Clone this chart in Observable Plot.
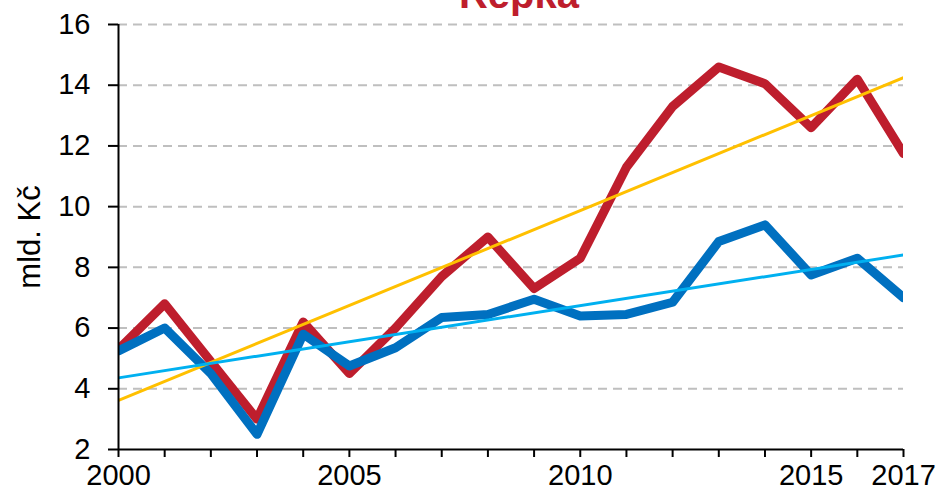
<!DOCTYPE html>
<html>
<head>
<meta charset="utf-8">
<script src="https://cdn.jsdelivr.net/npm/d3@7"></script>
<script src="https://cdn.jsdelivr.net/npm/@observablehq/plot@0.6"></script>
<style>
  html, body { margin: 0; padding: 0; background: #fff; overflow: hidden; }
  #wrap { position: relative; width: 937px; height: 489px; }
  #title { position: absolute; top: -26px; left: 419px; width: 200px; text-align: center;
    font: bold 40px "Liberation Sans", Arial, sans-serif; line-height: 40px; color: #BE1E2D; z-index: 2; }
</style>
</head>
<body>
<div id="wrap"><div id="title">Řepka</div><div id="chart"></div></div>
<script>
const title = "Řepka";
const yLabel = "mld. Kč";
const years = [2000,2001,2002,2003,2004,2005,2006,2007,2008,2009,2010,2011,2012,2013,2014,2015,2016,2017];
const redValues = [5.3,6.8,4.9,3.0,6.2,4.5,6.0,7.7,9.0,7.3,8.3,11.3,13.3,14.6,14.05,12.6,14.2,11.75];
const blueValues = [5.25,6.0,4.5,2.5,5.8,4.75,5.35,6.35,6.45,6.95,6.4,6.45,6.85,8.85,9.4,7.75,8.3,7.0];
const xTickLabels = [2000,2005,2010,2015,2017];
const yTicks = [2,4,6,8,10,12,14,16];

const red = years.map((x, i) => ({x, y: redValues[i]}));
const blue = years.map((x, i) => ({x, y: blueValues[i]}));

const chart = Plot.plot({
  width: 937, height: 489,
  marginLeft: 118, marginRight: 34, marginTop: 24, marginBottom: 40,
  style: {fontFamily: '"Liberation Sans", Arial, sans-serif', background: "#fff", color: "#000"},
  x: {domain: [2000, 2017], label: null},
  y: {domain: [2, 16], label: null},
  marks: [
    Plot.ruleY(yTicks.filter(d => d !== 2), {stroke: "#bfbfbf", strokeWidth: 2, strokeDasharray: "9,6"}),
    Plot.lineY(red, {x: "x", y: "y", stroke: "#BE1E2D", strokeWidth: 9, strokeLinejoin: "round", clip: true}),
    Plot.lineY(blue, {x: "x", y: "y", stroke: "#0070C0", strokeWidth: 9, strokeLinejoin: "round", clip: true}),
    Plot.linearRegressionY(red, {x: "x", y: "y", stroke: "#FFC000", strokeWidth: 3, ci: 0, clip: true}),
    Plot.linearRegressionY(blue, {x: "x", y: "y", stroke: "#00B0F0", strokeWidth: 3, ci: 0, clip: true}),
    Plot.ruleX([2000], {stroke: "#000", strokeWidth: 2}),
    Plot.ruleY([2], {stroke: "#000", strokeWidth: 2}),
    Plot.axisY(yTicks, {tickSize: 10, tickPadding: 18, fontSize: 29, strokeWidth: 2, stroke: "#000", fill: "#000", label: null}),
    Plot.axisX(years, {tickSize: 8, strokeWidth: 2, stroke: "#000", tickFormat: () => "", label: null}),
    Plot.axisX(xTickLabels, {tickSize: 0, tickPadding: 15, fontSize: 29, fill: "#000", tickFormat: d => String(d), label: null}),
    Plot.text([yLabel], {frameAnchor: "left", dx: -88, rotate: -90, text: d => d, fontSize: 31, fill: "#000", textAnchor: "middle", lineAnchor: "middle"})
  ]
});
document.getElementById("chart").appendChild(chart);
</script>
</body>
</html>
